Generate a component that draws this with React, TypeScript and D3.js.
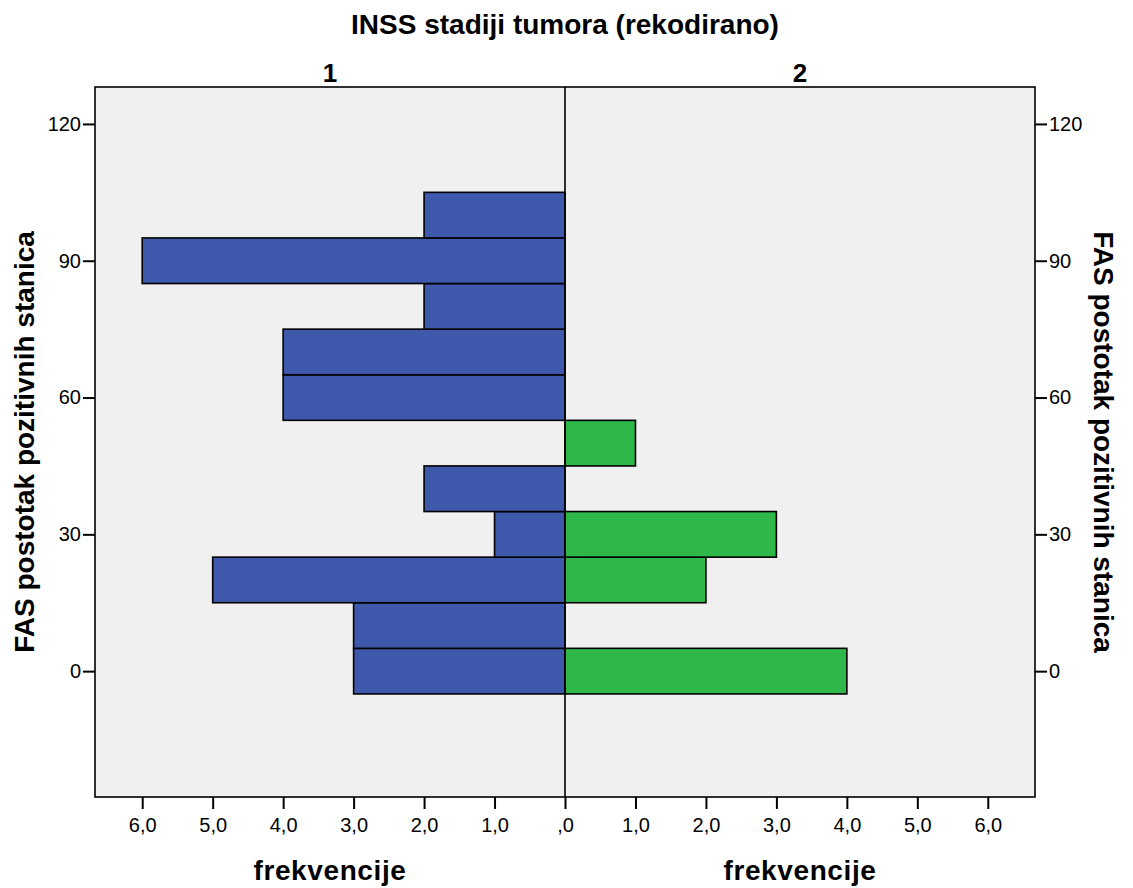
import React, { useEffect, useRef } from 'react';
import * as d3 from 'd3';

// FAS bins (centre of each 10-wide bin) and counts per INSS group
const binCenters = [0, 10, 20, 30, 40, 50, 60, 70, 80, 90, 100];
const group1Counts = [3, 3, 5, 1, 2, 0, 4, 4, 2, 6, 2];
const group2Counts = [4, 0, 2, 3, 0, 1, 0, 0, 0, 0, 0];
const yTicks = [0, 30, 60, 90, 120];
const xTicks = [0, 1, 2, 3, 4, 5, 6];
const panelLabels = ['1', '2'];

const W = 1133;
const H = 888;
const FONT = '"Liberation Sans", Arial, sans-serif';

const App: React.FC = () => {
    const svgRef = useRef<SVGSVGElement>(null);

    useEffect(() => {
        if (!svgRef.current) return;
        const svg = d3.select(svgRef.current);
        svg.selectAll('*').remove();

        const left = 95, right = 1035, top = 87, bottom = 797;
        const mid = (left + right) / 2;
        const binWidth = 10;
        const xMax = 6.67;

        const y = d3.scaleLinear().domain([-27.6, 128.1]).range([bottom, top]);
        const xL = d3.scaleLinear().domain([0, xMax]).range([mid, left]);
        const xR = d3.scaleLinear().domain([0, xMax]).range([mid, right]);
        const fmt = (d: number) => (d === 0 ? ',0' : d.toFixed(1).replace('.', ','));

        // plot background
        svg.append('rect')
            .attr('x', left).attr('y', top)
            .attr('width', right - left).attr('height', bottom - top)
            .attr('fill', '#f0f0f0');

        const bars = binCenters.map((c, i) => ({ c, g1: group1Counts[i], g2: group2Counts[i] }));

        svg.selectAll('.bar-left')
            .data(bars.filter(d => d.g1 > 0))
            .enter()
            .append('rect')
            .attr('class', 'bar-left')
            .attr('x', d => xL(d.g1))
            .attr('y', d => y(d.c + binWidth / 2))
            .attr('width', d => xL(0) - xL(d.g1))
            .attr('height', y(0) - y(binWidth))
            .attr('fill', '#3e58ac')
            .attr('stroke', '#000')
            .attr('stroke-width', 1.6);

        svg.selectAll('.bar-right')
            .data(bars.filter(d => d.g2 > 0))
            .enter()
            .append('rect')
            .attr('class', 'bar-right')
            .attr('x', xR(0))
            .attr('y', d => y(d.c + binWidth / 2))
            .attr('width', d => xR(d.g2) - xR(0))
            .attr('height', y(0) - y(binWidth))
            .attr('fill', '#2eb84a')
            .attr('stroke', '#000')
            .attr('stroke-width', 1.6);

        // frame and centre line
        svg.append('rect')
            .attr('x', left).attr('y', top)
            .attr('width', right - left).attr('height', bottom - top)
            .attr('fill', 'none')
            .attr('stroke', '#000')
            .attr('stroke-width', 1.6);
        svg.append('line')
            .attr('x1', mid).attr('x2', mid)
            .attr('y1', top).attr('y2', bottom)
            .attr('stroke', '#000')
            .attr('stroke-width', 1.6);

        // y axes
        const yAxisL = d3.axisLeft(y).tickValues(yTicks).tickSize(12).tickPadding(2).tickFormat(d => String(d));
        const yAxisR = d3.axisRight(y).tickValues(yTicks).tickSize(12).tickPadding(2).tickFormat(d => String(d));
        const gyl = svg.append('g').attr('transform', `translate(${left},0)`).call(yAxisL);
        const gyr = svg.append('g').attr('transform', `translate(${right},0)`).call(yAxisR);

        // x axes (frequency, mirrored)
        const xAxisL = d3.axisBottom(xL).tickValues(xTicks).tickSize(12).tickPadding(9).tickFormat(d => fmt(+d));
        const xAxisR = d3.axisBottom(xR).tickValues(xTicks.filter(d => d > 0)).tickSize(12).tickPadding(9).tickFormat(d => fmt(+d));
        const gxl = svg.append('g').attr('transform', `translate(0,${bottom})`).call(xAxisL);
        const gxr = svg.append('g').attr('transform', `translate(0,${bottom})`).call(xAxisR);

        [gyl, gyr, gxl, gxr].forEach(g => {
            g.select('.domain').remove();
            g.selectAll('.tick line').attr('stroke', '#000').attr('stroke-width', 2);
            g.selectAll('.tick text')
                .attr('fill', '#000')
                .style('font-family', FONT)
                .style('font-size', '20px');
        });

        // titles
        svg.append('text')
            .attr('x', mid).attr('y', 34)
            .attr('text-anchor', 'middle')
            .style('font-family', FONT).style('font-weight', 'bold').style('font-size', '28px')
            .text('INSS stadiji tumora (rekodirano)');

        const panelCenters = [(left + mid) / 2, (mid + right) / 2];
        panelLabels.forEach((lab, i) => {
            svg.append('text')
                .attr('x', panelCenters[i]).attr('y', 82)
                .attr('text-anchor', 'middle')
                .style('font-family', FONT).style('font-weight', 'bold').style('font-size', '26px')
                .text(lab);
            svg.append('text')
                .attr('x', panelCenters[i]).attr('y', 880)
                .attr('text-anchor', 'middle')
                .style('font-family', FONT).style('font-weight', 'bold').style('font-size', '28px')
                .style('letter-spacing', '0.6px')
                .text('frekvencije');
        });

        const yMid = (top + bottom) / 2;
        svg.append('text')
            .attr('transform', `translate(34,${yMid}) rotate(-90)`)
            .attr('text-anchor', 'middle')
            .style('font-family', FONT).style('font-weight', 'bold').style('font-size', '28px')
            .text('FAS postotak pozitivnih stanica');
        svg.append('text')
            .attr('transform', `translate(1094,${yMid}) rotate(90)`)
            .attr('text-anchor', 'middle')
            .style('font-family', FONT).style('font-weight', 'bold').style('font-size', '28px')
            .text('FAS postotak pozitivnih stanica');
    }, []);

    return (
        <div style={{ position: 'absolute', left: 0, top: 0 }}>
            <svg ref={svgRef} width={W} height={H} style={{ display: 'block', background: '#fff' }}></svg>
        </div>
    );
};

export default App;
